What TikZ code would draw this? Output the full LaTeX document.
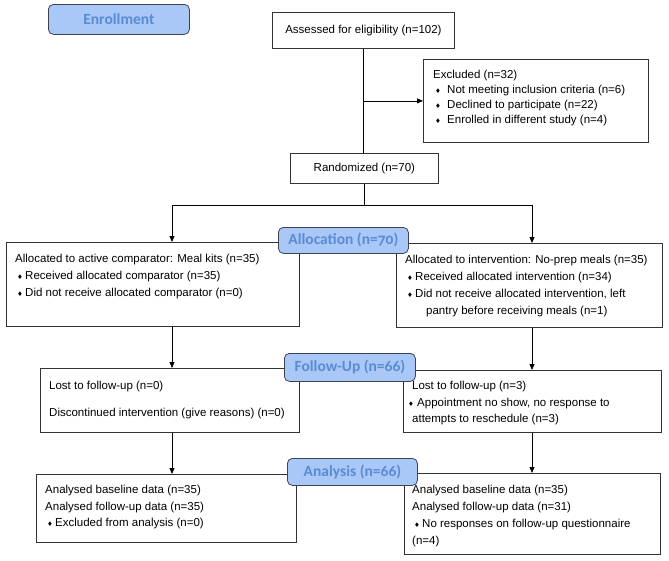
\documentclass[tikz,border=0pt]{standalone}
\usepackage{fontspec}
\setmainfont{Liberation Sans}
\newfontfamily\labelfont[Numbers=OldStyle]{Carlito}
\newfontfamily\symfont{DejaVu Sans}
\usetikzlibrary{positioning}
\usetikzlibrary{arrows.meta}
\usetikzlibrary{calc}

\definecolor{stagefill}{HTML}{A9C7F7}
\definecolor{stagetext}{HTML}{5A8CD2}
\definecolor{stageline}{HTML}{3F4350}

\newcommand{\dia}{{\symfont\fontsize{6.5}{6.5}\selectfont ♦}}
\newcommand{\bul}[1][8pt]{\makebox[#1][l]{\dia}}

\tikzset{
  flowbox/.style={draw=black!80, line width=0.8pt, anchor=north west, inner sep=0pt,
    font=\fontsize{11.5}{16.5}\selectfont},
  flowtext/.style={anchor=north west, inner sep=0pt, align=left,
    font=\fontsize{11.5}{16.5}\selectfont},
  stage/.style={draw=stageline, fill=stagefill, rounded corners=5pt, line width=0.8pt,
    text=stagetext, font=\labelfont\bfseries\fontsize{15.5}{18}\selectfont,
    anchor=north west, inner sep=0pt},
  flowarrow/.style={-{Triangle[length=6pt,width=5pt]}, line width=0.8pt},
  flowline/.style={line width=0.8pt}
}

\begin{document}
\begin{tikzpicture}[x=1pt,y=-1pt]
    \useasboundingbox (0,0) rectangle (669,560);

    % Enrollment
    \node[flowbox, minimum width=182pt, minimum height=36pt] (assess) at (272,12) {Assessed for eligibility (n=102)};
    \node[flowbox, minimum width=225pt, minimum height=83pt] (excl) at (423,59) {};
    \node[flowtext, font=\fontsize{11.5}{15}\selectfont] (excltxt) at (433,70)
        {Excluded (n=32)\\
         \hspace*{2pt}\bul[12pt]Not meeting inclusion criteria (n=6)\\
         \hspace*{2pt}\bul[12pt]Declined to participate (n=22)\\
         \hspace*{2pt}\bul[12pt]Enrolled in different study (n=4)};
    \node[flowbox, minimum width=148pt, minimum height=30pt] (rand) at (290,153) {Randomized (n=70)};

    % Allocation
    \node[flowbox, minimum width=293pt, minimum height=84pt] (alloc1) at (6,242) {};
    \node[flowtext, font=\fontsize{11.5}{17}\selectfont] (alloc1txt) at (15,254)
        {Allocated to active comparator: Meal kits (n=35)\\
         \hspace*{2pt}\bul Received allocated comparator (n=35)\\
         \hspace*{2pt}\bul Did not receive allocated comparator (n=0)};
    \node[flowbox, minimum width=266pt, minimum height=84pt] (alloc2) at (396,243) {};
    \node[flowtext, font=\fontsize{11.5}{17}\selectfont] (alloc2txt) at (405,255)
        {Allocated to intervention: No-prep meals (n=35)\\
         \hspace*{2pt}\bul Received allocated intervention (n=34)\\
         \hspace*{2pt}\bul Did not receive allocated intervention, left\\
         \hspace*{21pt}pantry before receiving meals (n=1)};

    % Follow-up
    \node[flowbox, minimum width=259pt, minimum height=64pt] (fol1) at (40,368) {};
    \node[flowtext] (fol1txt) at (49,381)
        {Lost to follow-up (n=0)\\[10.5pt]
         Discontinued intervention (give reasons) (n=0)};
    \node[flowbox, minimum width=258pt, minimum height=62pt] (fol2) at (403,370) {};
    \node[flowtext] (fol2txt) at (412,381)
        {Lost to follow-up (n=3)\\
         \hspace*{-4pt}\bul[9pt]Appointment no show, no response to\\
         attempts to reschedule (n=3)};

    % Analysis
    \node[flowbox, minimum width=260pt, minimum height=68pt] (ana1) at (36,474) {};
    \node[flowtext] (ana1txt) at (45,485)
        {Analysed baseline data (n=35)\\
         Analysed follow-up data (n=35)\\
         \hspace*{2pt}\bul Excluded from analysis (n=0)};
    \node[flowbox, minimum width=256pt, minimum height=81pt] (ana2) at (404,473) {};
    \node[flowtext, font=\fontsize{11.5}{17}\selectfont] (ana2txt) at (412,485)
        {Analysed baseline data (n=35)\\
         Analysed follow-up data (n=31)\\
         \hspace*{2pt}\bul No responses on follow-up questionnaire\\
         (n=4)};

    % Columns for the arrows
    \coordinate (lcol) at (172,205);
    \coordinate (rcol) at (532,205);

    % Draw the connectors
    \draw[flowline] (assess.south) -- (assess.south |- rand.north);
    \draw[flowarrow] (assess.south |- excl.west) -- (excl.west);
    \draw[flowline] (rand.south) -- (rand.south |- lcol);
    \draw[flowarrow] (rand.south |- lcol) -| (alloc1.north -| lcol);
    \draw[flowarrow] (rand.south |- rcol) -| (alloc2.north -| rcol);
    \draw[flowarrow] (alloc1.south -| lcol) -- (fol1.north -| lcol);
    \draw[flowarrow] (alloc2.south -| rcol) -- (fol2.north -| rcol);
    \draw[flowarrow] (fol1.south -| lcol) -- (ana1.north -| lcol);
    \draw[flowarrow] (fol2.south -| rcol) -- (ana2.north -| rcol);

    % Stage labels on top
    \node[stage, minimum width=141pt, minimum height=30pt] (enrolS) at (48,4) {Enrollment};
    \node[stage, minimum width=130pt, minimum height=26pt] (allocS) at (278,227) {Allocation (n=70)};
    \node[stage, minimum width=131pt, minimum height=28pt] (folS) at (284,353) {Follow-Up (n=66)};
    \node[stage, minimum width=130pt, minimum height=27pt] (anaS) at (287,458) {Analysis (n=66)};
\end{tikzpicture}
\end{document}
